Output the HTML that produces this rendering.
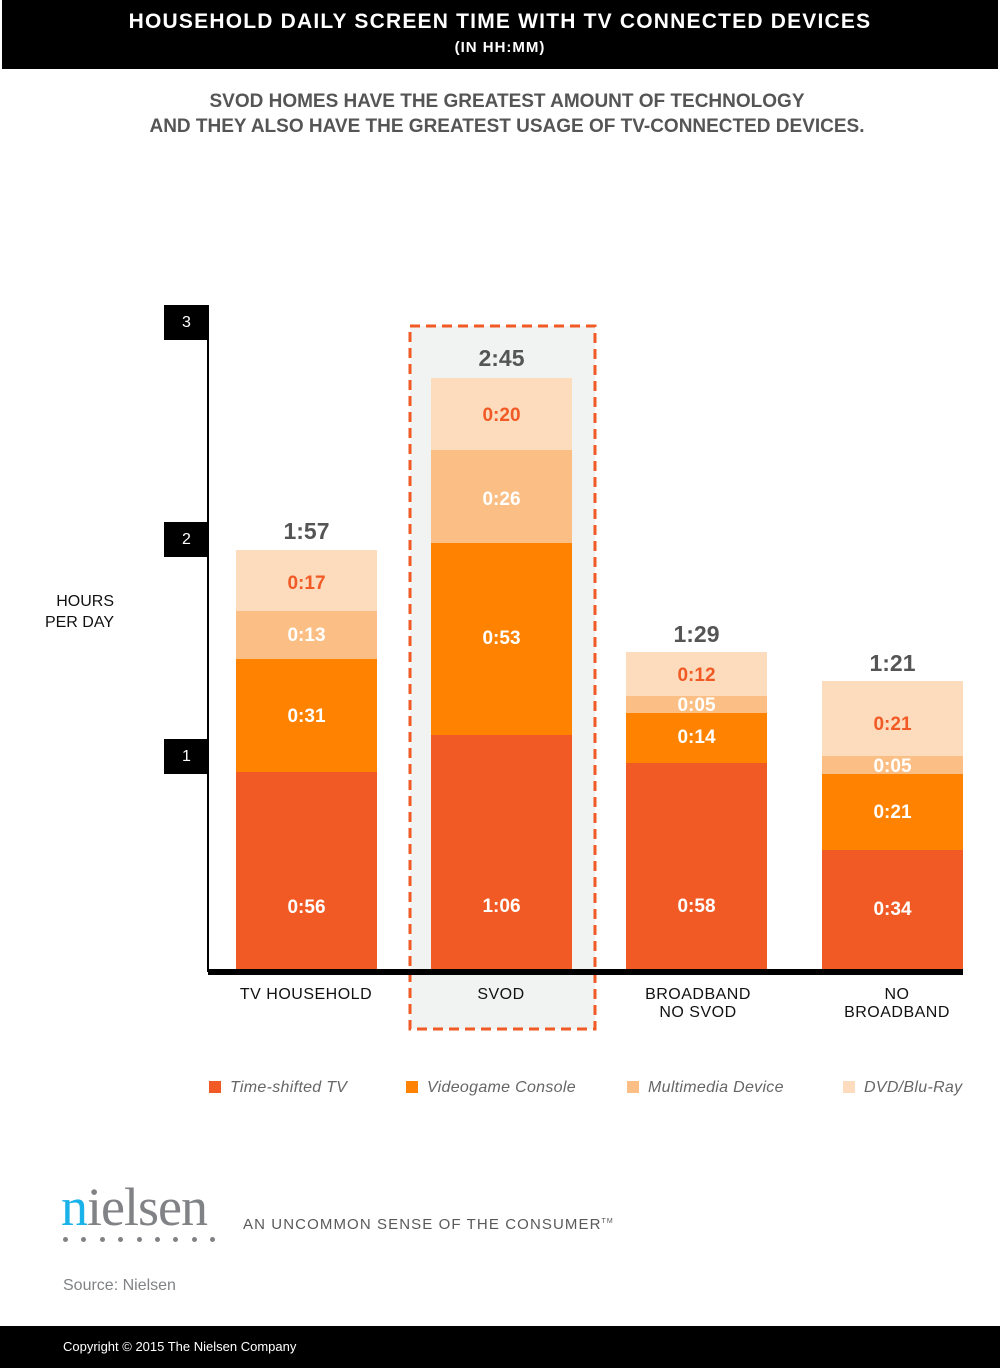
<!DOCTYPE html>
<html><head><meta charset="utf-8"><style>
body{margin:0;width:1000px;height:1369px;background:#fff;position:relative;font-family:"Liberation Sans",sans-serif;overflow:hidden}
.a{position:absolute}
.seg{position:absolute;display:flex;align-items:center;justify-content:center;font-weight:bold;font-size:19px;color:#fff}
.tot{position:absolute;width:141px;text-align:center;font-weight:bold;font-size:23px;color:#555}
.tick{position:absolute;left:164px;width:45px;height:35px;background:#000;color:#fff;font-size:16px;display:flex;align-items:center;justify-content:center}
.cat{position:absolute;width:200px;text-align:center;font-size:16px;color:#111;line-height:18px;letter-spacing:0.5px}
.lg{position:absolute;top:1079px;font-style:italic;color:#666;font-family:"Liberation Sans",sans-serif;font-size:16px;letter-spacing:0.3px}
.lg i{display:inline-block;width:12px;height:12px;margin-right:9px;vertical-align:-1px}
</style></head><body>
<div class="a" style="left:2px;top:0;width:996px;height:69px;background:#000;color:#fff;text-align:center;font-weight:bold">
<div style="font-size:21px;letter-spacing:1.2px;margin-top:10px">HOUSEHOLD DAILY SCREEN TIME WITH TV CONNECTED DEVICES</div>
<div style="font-size:15px;letter-spacing:1px;margin-top:5px">(IN HH:MM)</div></div>
<div class="a" style="left:0;top:89px;width:1014px;text-align:center;font-weight:bold;font-size:19px;color:#555;line-height:25px">SVOD HOMES HAVE THE GREATEST AMOUNT OF TECHNOLOGY<br>AND THEY ALSO HAVE THE GREATEST USAGE OF TV-CONNECTED DEVICES.</div>

<div class="a" style="left:410px;top:326px;width:185px;height:703px;background:#f1f2f2"></div>
<svg class="a" style="left:408px;top:324px" width="190" height="708"><rect x="2" y="2" width="185" height="703" fill="none" stroke="#f15a24" stroke-width="3" stroke-dasharray="10,6"/></svg>

<div class="a" style="left:207px;top:305px;width:2px;height:667px;background:#000"></div>
<div class="a" style="left:208px;top:969px;width:755px;height:6px;background:#000"></div>
<div class="tick" style="top:305px">3</div>
<div class="tick" style="top:522px">2</div>
<div class="tick" style="top:739px">1</div>
<div class="a" style="left:30px;top:591px;width:84px;text-align:right;font-size:16px;line-height:21px;color:#111">HOURS<br>PER DAY</div>

<div class="tot" style="left:236px;top:518px">1:57</div>
<div class="seg" style="left:236px;top:550px;width:141px;height:61px;background:#fddbbd;color:#f15a24;padding-top:6px;box-sizing:border-box">0:17</div>
<div class="seg" style="left:236px;top:611px;width:141px;height:48px;background:#fbbf85;padding-top:2px;box-sizing:border-box">0:13</div>
<div class="seg" style="left:236px;top:659px;width:141px;height:113px;background:#ff8200;padding-top:3px;box-sizing:border-box">0:31</div>
<div class="seg" style="left:236px;top:772px;width:141px;height:197px;background:#f15a24;padding-top:74px;box-sizing:border-box">0:56</div>

<div class="tot" style="left:431px;top:345px">2:45</div>
<div class="seg" style="left:431px;top:378px;width:141px;height:72px;background:#fddbbd;color:#f15a24;padding-top:4px;box-sizing:border-box">0:20</div>
<div class="seg" style="left:431px;top:450px;width:141px;height:93px;background:#fbbf85;padding-top:6px;box-sizing:border-box">0:26</div>
<div class="seg" style="left:431px;top:543px;width:141px;height:192px;background:#ff8200">0:53</div>
<div class="seg" style="left:431px;top:735px;width:141px;height:234px;background:#f15a24;padding-top:110px;box-sizing:border-box">1:06</div>

<div class="tot" style="left:626px;top:621px">1:29</div>
<div class="seg" style="left:626px;top:652px;width:141px;height:44px;background:#fddbbd;color:#f15a24;padding-top:4px;box-sizing:border-box">0:12</div>
<div class="seg" style="left:626px;top:696px;width:141px;height:17px;background:#fbbf85;padding-top:3px;box-sizing:border-box">0:05</div>
<div class="seg" style="left:626px;top:713px;width:141px;height:50px;background:#ff8200">0:14</div>
<div class="seg" style="left:626px;top:763px;width:141px;height:206px;background:#f15a24;padding-top:82px;box-sizing:border-box">0:58</div>

<div class="tot" style="left:822px;top:650px">1:21</div>
<div class="seg" style="left:822px;top:681px;width:141px;height:75px;background:#fddbbd;color:#f15a24;padding-top:12px;box-sizing:border-box">0:21</div>
<div class="seg" style="left:822px;top:756px;width:141px;height:18px;background:#fbbf85;padding-top:4px;box-sizing:border-box">0:05</div>
<div class="seg" style="left:822px;top:774px;width:141px;height:76px;background:#ff8200;padding-top:2px;box-sizing:border-box">0:21</div>
<div class="seg" style="left:822px;top:850px;width:141px;height:119px;background:#f15a24;padding-top:0px;box-sizing:border-box">0:34</div>

<div class="cat" style="left:206px;top:986px">TV HOUSEHOLD</div>
<div class="cat" style="left:401px;top:986px">SVOD</div>
<div class="cat" style="left:598px;top:986px">BROADBAND<br>NO SVOD</div>
<div class="cat" style="left:797px;top:986px">NO<br>BROADBAND</div>

<div class="lg" style="left:209px"><i style="background:#f15a24"></i>Time-shifted TV</div>
<div class="lg" style="left:406px"><i style="background:#ff8200"></i>Videogame Console</div>
<div class="lg" style="left:627px"><i style="background:#fbbf85"></i>Multimedia Device</div>
<div class="lg" style="left:843px"><i style="background:#fddbbd"></i>DVD/Blu-Ray</div>

<div class="a" style="left:61px;top:1177px;font-family:'Liberation Serif',serif;font-size:54px;color:#808285;letter-spacing:-1px;line-height:60px"><span style="color:#1ab2e8">n</span>ielsen</div>
<div class="a" style="left:63px;top:1237px;width:152px;display:flex;justify-content:space-between">
<i style="width:5px;height:5px;border-radius:50%;background:#808285"></i><i style="width:5px;height:5px;border-radius:50%;background:#808285"></i><i style="width:5px;height:5px;border-radius:50%;background:#808285"></i><i style="width:5px;height:5px;border-radius:50%;background:#808285"></i><i style="width:5px;height:5px;border-radius:50%;background:#808285"></i><i style="width:5px;height:5px;border-radius:50%;background:#808285"></i><i style="width:5px;height:5px;border-radius:50%;background:#808285"></i><i style="width:5px;height:5px;border-radius:50%;background:#808285"></i><i style="width:5px;height:5px;border-radius:50%;background:#808285"></i></div>
<div class="a" style="left:243px;top:1216px;font-size:15px;letter-spacing:1.1px;color:#58595b">AN UNCOMMON SENSE OF THE CONSUMER<sup style="font-size:7px">TM</sup></div>
<div class="a" style="left:63px;top:1277px;font-size:16px;color:#808285">Source: Nielsen</div>
<div class="a" style="left:0;top:1326px;width:1000px;height:42px;background:#000;color:#fff;font-size:13px;line-height:42px;padding-left:63px;box-sizing:border-box">Copyright © 2015 The Nielsen Company</div>
</body></html>
